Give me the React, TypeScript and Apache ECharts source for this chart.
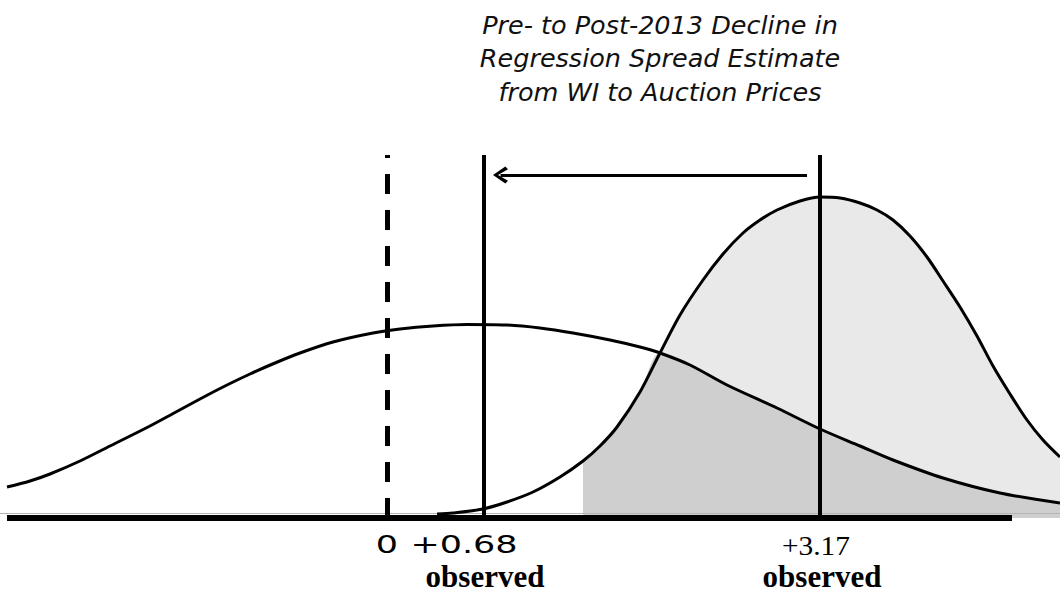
import React, { useEffect, useRef } from "react";
import * as echarts from "echarts";

// Schematic axis units: dashed line at 0, 1 unit = 100px; heights in the same units.
const wideX = [-3.8, -3.57, -3.37, -3.07, -2.77, -2.37, -2.12, -1.87, -1.62, -1.37, -1.12, -0.87, -0.54, -0.14, 0.13, 0.46, 0.8, 1.2, 1.53, 1.86, 2.23, 2.53, 2.73, 3.03, 3.4, 3.9, 4.33, 4.73, 5.06, 5.56, 6.13, 6.73];
const wideY = [0.31, 0.37, 0.44, 0.57, 0.72, 0.92, 1.055, 1.19, 1.32, 1.44, 1.55, 1.65, 1.76, 1.85, 1.89, 1.92, 1.935, 1.93, 1.9, 1.85, 1.78, 1.71, 1.65, 1.53, 1.33, 1.1, 0.89, 0.72, 0.58, 0.4, 0.25, 0.15];

const narrowX = [0.5, 0.66, 0.96, 1.2, 1.46, 1.73, 1.96, 2.13, 2.3, 2.53, 2.73, 2.93, 3.16, 3.36, 3.56, 3.73, 3.9, 4.13, 4.33, 4.53, 4.73, 4.9, 5.06, 5.23, 5.4, 5.56, 5.73, 5.9, 6.06, 6.23, 6.4, 6.56, 6.73];
const narrowY = [0.04, 0.05, 0.09, 0.16, 0.26, 0.41, 0.57, 0.72, 0.91, 1.26, 1.65, 2.03, 2.38, 2.64, 2.85, 2.98, 3.08, 3.17, 3.21, 3.2, 3.15, 3.08, 2.98, 2.82, 2.61, 2.37, 2.11, 1.82, 1.52, 1.24, 0.98, 0.78, 0.61];

const shadeStart = 1.96; // left edge of the stippled region
const crossing = 2.73; // where the two curves meet

const zeroPos = 0; // dashed line
const preObservedPos = 0.97; // "+0.68 observed"
const postObservedPos = 4.33; // "+3.17 observed"
const markerTop = 3.63;
const arrowY = 3.43;
const arrowFrom = 4.2;
const arrowTo = 1.135;
const axisStart = -3.8;
const axisEnd = 6.25;

const tickLabels = ["0", "+0.68", "+3.17"];
const observedLabel = "observed";
const titleLines = [
  "Pre- to Post-2013 Decline in",
  "Regression Spread Estimate",
  "from WI to Auction Prices",
];

const X_MIN = -3.87;
const X_MAX = 6.73;
const Y_MAX = 5.18;

const pairs = (xs: number[], ys: number[]) => xs.map((x, i) => [x, ys[i]]);

const chevron = "path://M50,0 L100,74 L84,90 L50,30 L16,90 L0,74 Z";

export default function App() {
  const ref = useRef<HTMLDivElement>(null);

  useEffect(() => {
    if (!ref.current) return;
    const chart = echarts.init(ref.current, null, { renderer: "svg" });

    const wide = pairs(wideX, wideY);
    const narrow = pairs(narrowX, narrowY);
    const narrowShade = narrow.filter((p) => p[0] >= shadeStart);
    const overlapShade = [
      ...narrow.filter((p) => p[0] >= shadeStart && p[0] <= crossing),
      ...wide.filter((p) => p[0] > crossing),
    ];

    const curve = (name: string, data: number[][]) => ({
      name,
      type: "line",
      data,
      smooth: 0.3,
      symbol: "none",
      lineStyle: { color: "#000", width: 3 },
      z: 5,
    });

    const shade = (name: string, data: number[][], color: string, z: number) => ({
      name,
      type: "line",
      data,
      smooth: 0.3,
      symbol: "none",
      lineStyle: { width: 0 },
      areaStyle: { color, opacity: 1 },
      z,
      silent: true,
    });

    const option: any = {
      animation: false,
      backgroundColor: "#ffffff",
      grid: { left: 0, right: 0, top: 0, bottom: 75 },
      xAxis: { type: "value", min: X_MIN, max: X_MAX, show: false },
      yAxis: { type: "value", min: 0, max: Y_MAX, show: false },
      series: [
        shade("post shade", narrowShade, "#e9e9e9", 1),
        shade("overlap shade", overlapShade, "#cfcfcf", 2),
        curve("pre-2013", wide),
        curve("post-2013", narrow),
        {
          name: "axis",
          type: "line",
          data: [],
          clip: false,
          markLine: {
            silent: true,
            symbol: ["none", "none"],
            label: { show: false },
            animation: false,
            data: [
              [
                { coord: [X_MIN, 0.05], lineStyle: { color: "#b5b5b5", width: 1, type: "solid" } },
                { coord: [X_MAX, 0.05] },
              ],
              [
                { coord: [axisStart, 0], lineStyle: { color: "#000", width: 6, type: "solid" } },
                { coord: [axisEnd, 0] },
              ],
            ],
          },
          z: 6,
        },
        {
          name: "zero",
          type: "line",
          data: [],
          clip: false,
          markLine: {
            silent: true,
            symbol: ["none", "none"],
            label: { show: false },
            animation: false,
            lineStyle: { color: "#000", width: 5, type: [20, 16], cap: "butt" },
            data: [[{ coord: [zeroPos, 0] }, { coord: [zeroPos, markerTop] }]],
          },
          z: 7,
        },
        {
          name: "observed",
          type: "line",
          data: [],
          clip: false,
          markLine: {
            silent: true,
            symbol: ["none", "none"],
            label: { show: false },
            animation: false,
            lineStyle: { color: "#000", width: 4, type: "solid" },
            data: [
              [{ coord: [preObservedPos, 0] }, { coord: [preObservedPos, markerTop] }],
              [{ coord: [postObservedPos, 0] }, { coord: [postObservedPos, markerTop] }],
            ],
          },
          z: 7,
        },
        {
          name: "arrow",
          type: "line",
          data: [],
          clip: false,
          markLine: {
            silent: true,
            symbol: ["none", chevron],
            symbolSize: [17, 15],
            label: { show: false },
            animation: false,
            lineStyle: { color: "#000", width: 3, type: "solid" },
            data: [[{ coord: [arrowFrom, arrowY] }, { coord: [arrowTo, arrowY] }]],
          },
          z: 7,
        },
      ],
    };

    chart.setOption(option);

    const px = (x: number) => chart.convertToPixel({ gridIndex: 0 }, [x, 0])[0];
    const base = chart.convertToPixel({ gridIndex: 0 }, [0, 0])[1];

    const sans = (t: string, x: number, sx: number) => ({
      type: "text",
      x,
      y: base + 26,
      scaleX: sx,
      style: {
        text: t,
        font: '25px "DejaVu Sans"',
        fill: "#000",
        textAlign: "center",
        textVerticalAlign: "middle",
      },
    });

    const observed = (x: number) => ({
      type: "text",
      x,
      y: base + 58,
      style: {
        text: observedLabel,
        font: 'bold 31px "Liberation Serif"',
        lineHeight: 31,
        fill: "#000",
        textAlign: "center",
        textVerticalAlign: "middle",
      },
    });

    chart.setOption({
      graphic: [
        {
          type: "text",
          x: 660,
          y: 8,
          style: {
            text: titleLines.join("\n"),
            font: 'italic 25.5px "DejaVu Sans"',
            lineHeight: 33.5,
            fill: "#111",
            textAlign: "center",
            textVerticalAlign: "top",
          },
        },
        sans(tickLabels[0], px(zeroPos), 1.4),
        sans(tickLabels[1], px(preObservedPos) - 20, 1.4),
        {
          type: "text",
          x: px(postObservedPos) - 4,
          y: base + 27,
          scaleX: 1.05,
          style: {
            text: tickLabels[2],
            font: '28px "Liberation Serif"',
            fill: "#000",
            textAlign: "center",
            textVerticalAlign: "middle",
          },
        },
        observed(px(preObservedPos) + 1),
        observed(px(postObservedPos) + 2),
      ],
    });

    return () => chart.dispose();
  }, []);

  return (
    <div
      ref={ref}
      style={{ position: "fixed", left: 0, top: 0, width: 1060, height: 593, background: "#fff" }}
    />
  );
}
